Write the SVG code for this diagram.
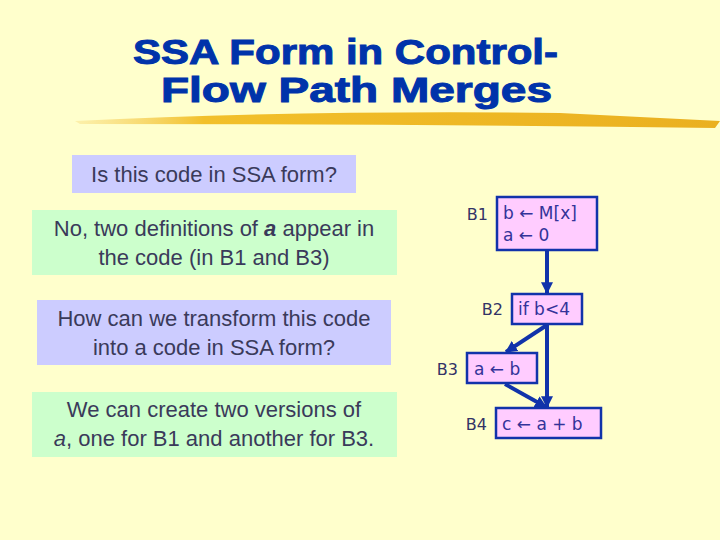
<svg xmlns="http://www.w3.org/2000/svg" width="720" height="540" viewBox="0 0 720 540">
<style>
.t{font-family:"Liberation Sans",Arial,sans-serif;font-size:22px;fill:#3a3a5a;text-anchor:middle}
.h{font-family:"Liberation Sans",Arial,sans-serif;font-size:35px;font-weight:bold;fill:#0033aa;stroke:#0033aa;stroke-width:1}
.c{font-family:"DejaVu Sans","Liberation Sans",sans-serif;font-size:17px;fill:#333399}
.lab{font-family:"DejaVu Sans","Liberation Sans",sans-serif;font-size:16px;fill:#333366;text-anchor:end}
.blk{fill:#ffccff;stroke:#1133aa;stroke-width:2.5}
.e{stroke:#1133aa;stroke-width:4;fill:none;marker-end:url(#ah)}
</style>
<defs><marker id="ah" viewBox="0 0 10 10" refX="9" refY="5" markerWidth="3" markerHeight="3" orient="auto"><path d="M0,0L10,5L0,10z" fill="#1133aa"/></marker>
<linearGradient id="g" x1="0" x2="1"><stop offset="0" stop-color="#f6d060" stop-opacity="0.3"/><stop offset="0.2" stop-color="#f2c02a"/><stop offset="1" stop-color="#eab020"/></linearGradient></defs>
<rect width="720" height="540" fill="#ffffcc"/>
<text class="h" x="133" y="64" textLength="425" lengthAdjust="spacingAndGlyphs">SSA Form in Control-</text>
<text class="h" x="161" y="102" textLength="391" lengthAdjust="spacingAndGlyphs">Flow Path Merges</text>
<path d="M75,121 Q300,110 560,113 L720,121 L715,128 Q400,124 80,124z" fill="url(#g)"/>
<g id="q1"><rect x="72" y="155" width="284" height="38" fill="#ccccff"/><text class="t" x="214" y="182">Is this code in SSA form?</text></g>
<g id="a1"><rect x="32" y="210" width="365" height="65" fill="#ccffcc"/><text class="t" x="214" y="236">No, two definitions of <tspan font-weight="bold" font-style="italic">a</tspan> appear in</text><text class="t" x="214" y="265">the code (in B1 and B3)</text></g>
<g id="q2"><rect x="37" y="300" width="354" height="65" fill="#ccccff"/><text class="t" x="214" y="326">How can we transform this code</text><text class="t" x="214" y="355">into a code in SSA form?</text></g>
<g id="a2"><rect x="32" y="392" width="365" height="65" fill="#ccffcc"/><text class="t" x="214" y="417">We can create two versions of</text><text class="t" x="214" y="446"><tspan font-style="italic">a</tspan>, one for B1 and another for B3.</text></g>
<g id="edges">
<line class="e" x1="547" y1="250" x2="547" y2="293"/>
<line class="e" x1="547" y1="325" x2="506" y2="352"/>
<line class="e" x1="547" y1="325" x2="547" y2="407"/>
<line class="e" x1="505" y1="384" x2="546" y2="407"/>
</g>
<g id="B1"><rect class="blk" x="497" y="197" width="100" height="53"/><text class="lab" x="488" y="220">B1</text><text class="c" x="503" y="219">b ← M[x]</text><text class="c" x="503" y="241">a ← 0</text></g>
<g id="B2"><rect class="blk" x="512" y="294" width="70" height="30"/><text class="lab" x="503" y="315">B2</text><text class="c" x="518" y="315">if b&lt;4</text></g>
<g id="B3"><rect class="blk" x="467" y="353" width="70" height="30"/><text class="lab" x="458" y="375">B3</text><text class="c" x="474" y="375">a ← b</text></g>
<g id="B4"><rect class="blk" x="496" y="408" width="105" height="30"/><text class="lab" x="487" y="430">B4</text><text class="c" x="502" y="430">c ← a + b</text></g>
</svg>
